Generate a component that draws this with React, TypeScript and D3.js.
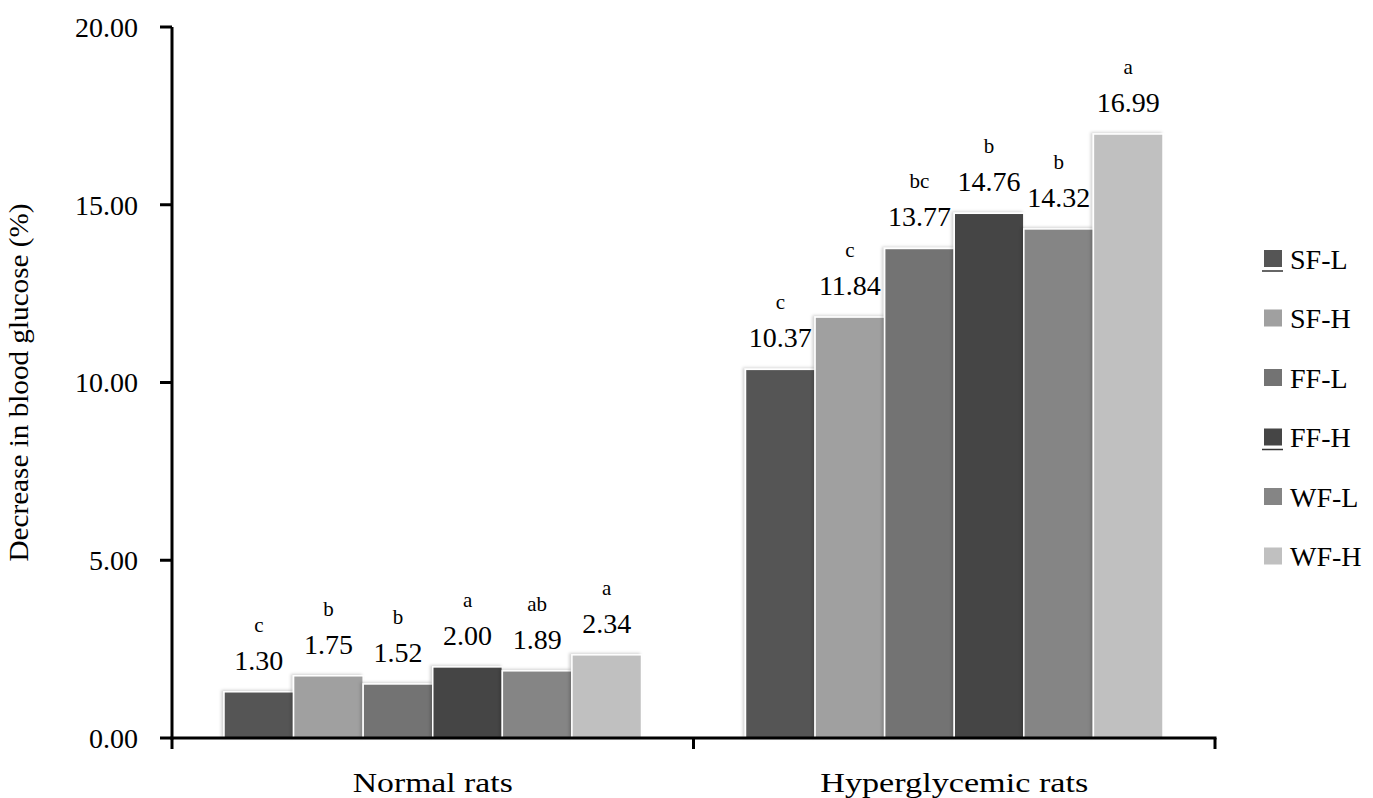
import React from 'react';
import * as d3 from 'd3';

// groups on the x axis
const groups = ['Normal rats', 'Hyperglycemic rats'];
// series (legend order)
const series = ['SF-L', 'SF-H', 'FF-L', 'FF-H', 'WF-L', 'WF-H'];
const colors = ['#555555', '#a0a0a0', '#737373', '#454545', '#858585', '#c0c0c0'];
// values per group, in series order
const normalValues = [1.3, 1.75, 1.52, 2.0, 1.89, 2.34];
const hyperValues = [10.37, 11.84, 13.77, 14.76, 14.32, 16.99];
// significance letters
const normalLetters = ['c', 'b', 'b', 'a', 'ab', 'a'];
const hyperLetters = ['c', 'c', 'bc', 'b', 'b', 'a'];
const yTicks = [0, 5, 10, 15, 20];

const values = [normalValues, hyperValues];
const letters = [normalLetters, hyperLetters];

const W = 1373;
const H = 798;
const FONT = '"Liberation Serif", "Times New Roman", serif';

export default function App() {
  const x0 = d3.scaleBand().domain(groups).range([172, 1215]).padding(0);
  const x1 = d3
    .scaleBand()
    .domain(series)
    .range([52, x0.bandwidth() - 52])
    .padding(0);
  const y = d3.scaleLinear().domain([0, 20]).range([738, 27]);

  return (
    <svg
      width={W}
      height={H}
      style={{ position: 'absolute', left: 0, top: 0, background: '#fff' }}
      fontFamily={FONT}
    >
      <defs>
        <filter id="shadow" x="-10%" y="-10%" width="120%" height="120%">
          <feDropShadow dx="-2" dy="-1" stdDeviation="1.5" floodColor="#000" floodOpacity="0.18" />
        </filter>
      </defs>

      {/* bars */}
      {groups.map((g, gi) => (
        <g key={g} transform={`translate(${x0(g)},0)`}>
          {series.map((s, si) => {
            const v = values[gi][si];
            const bx = x1(s)!;
            const bw = x1.bandwidth();
            return (
              <rect
                key={s}
                x={bx}
                y={y(v)}
                width={bw}
                height={y(0) - y(v)}
                fill={colors[si]}
                stroke="#fff"
                strokeWidth={1.5}
                filter="url(#shadow)"
              />
            );
          })}
          {series.map((s, si) => {
            const v = values[gi][si];
            const cx = x1(s)! + x1.bandwidth() / 2;
            return (
              <g key={s + '-lab'}>
                <text x={cx} y={y(v) - 22} textAnchor="middle" fontSize={28} fill="#000">
                  {d3.format('.2f')(v)}
                </text>
                <text x={cx} y={y(v) - 60} textAnchor="middle" fontSize={21} fill="#000">
                  {letters[gi][si]}
                </text>
              </g>
            );
          })}
        </g>
      ))}

      {/* y axis */}
      <line x1={172} x2={172} y1={y(20)} y2={y(0) + 1.5} stroke="#000" strokeWidth={3} />
      {yTicks.map((t) => (
        <g key={t}>
          <line x1={160} x2={172} y1={y(t)} y2={y(t)} stroke="#000" strokeWidth={3} />
          <text x={138} y={y(t)} dy="0.35em" textAnchor="end" fontSize={28} fill="#000">
            {d3.format('.2f')(t)}
          </text>
        </g>
      ))}
      <text
        transform={`translate(28,${(y(0) + y(20)) / 2}) rotate(-90)`}
        textAnchor="middle"
        fontSize={28}
        fill="#000"
        textLength={358}
        lengthAdjust="spacingAndGlyphs"
      >
        Decrease in blood glucose (%)
      </text>

      {/* x axis */}
      <line x1={170.5} x2={1216.5} y1={y(0)} y2={y(0)} stroke="#000" strokeWidth={3} />
      {[0, 1, 2].map((i) => {
        const tx = 172 + i * x0.bandwidth();
        return <line key={i} x1={tx} x2={tx} y1={y(0)} y2={y(0) + 11} stroke="#000" strokeWidth={3} />;
      })}
      {groups.map((g, gi) => (
        <text
          key={g}
          x={x0(g)! + x0.bandwidth() / 2}
          y={792}
          textAnchor="middle"
          fontSize={28}
          fill="#000"
          textLength={gi === 0 ? 160 : 268}
          lengthAdjust="spacingAndGlyphs"
        >
          {g}
        </text>
      ))}

      {/* legend */}
      {series.map((s, i) => {
        const cy = 259 + i * 59.5;
        const dark = i === 0 || i === 3;
        return (
          <g key={s}>
            <rect x={1264} y={cy - 9} width={18} height={17} fill={colors[i]} />
            {dark && <line x1={1262} x2={1283} y1={cy + 12} y2={cy + 12} stroke="#333" strokeWidth={1.5} />}
            <text x={1290} y={cy} dy="0.35em" fontSize={28} fill="#000">
              {s}
            </text>
          </g>
        );
      })}
    </svg>
  );
}
